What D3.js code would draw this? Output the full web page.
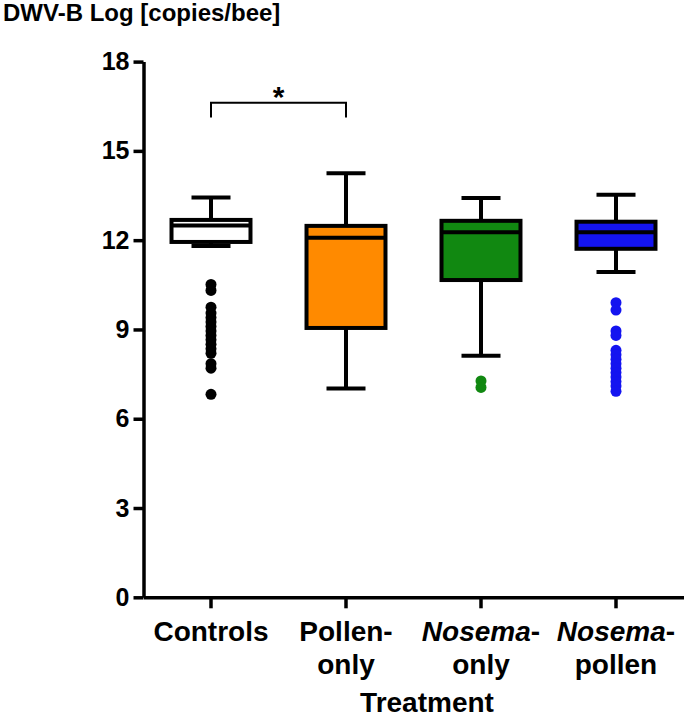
<!DOCTYPE html>
<html>
<head>
<meta charset="utf-8">
<script src="https://cdn.jsdelivr.net/npm/d3@7"></script>
<style>
  html, body { margin: 0; padding: 0; background: #fff; }
  svg { display: block; font-family: "Liberation Sans", Arial, sans-serif; }
</style>
</head>
<body>
<svg id="chart" width="685" height="722"></svg>
<script>
// ---- data ----
const categories = ["Controls", "Pollen-only", "Nosema-only", "Nosema-pollen"];
const whiskerLow  = [11.80, 7.02, 8.12, 10.93];
const q1          = [11.94, 9.05, 10.66, 11.71];
const medians     = [12.49, 12.08, 12.27, 12.27];
const q3          = [12.68, 12.48, 12.65, 12.62];
const whiskerHigh = [13.43, 14.25, 13.42, 13.53];
const outliersControls = [10.51, 10.31, 9.75, 9.55, 9.4, 9.25, 9.1, 8.95, 8.8, 8.65, 8.5, 8.35, 8.2, 7.85, 7.7, 6.82];
const outliersPollen = [];
const outliersNosema = [7.27, 7.05];
const outliersNosemaPollen = [9.9, 9.65, 8.95, 8.8, 8.3, 8.15, 8.0, 7.85, 7.7, 7.55, 7.4, 7.25, 7.1, 6.92];
const outliers = [outliersControls, outliersPollen, outliersNosema, outliersNosemaPollen];
const boxFill = ["#ffffff", "#ff8a00", "#118811", "#1414f0"];
const dotFill = ["#000000", "#ff8a00", "#118811", "#1414f0"];
const yTicks = [0, 3, 6, 9, 12, 15, 18];
const labelTop = ["Controls", "Pollen-", "Nosema", "Nosema"];
const labelTopItalic = [false, false, true, true];
const labelTopSuffix = ["", "", "-", "-"];
const labelBottom = ["", "only", "only", "pollen"];
const yTitle = "DWV-B Log [copies/bee]";
const xTitle = "Treatment";
const sigPair = [0, 1];
const sigLabel = "*";

// ---- layout ----
const svg = d3.select("#chart");
const x = d3.scaleBand().domain(categories).range([143.5, 683.5]).padding(0);
const y = d3.scaleLinear().domain([0, 18]).range([597.3, 61.6]);
const cx = i => x(categories[i]) + x.bandwidth() / 2;
const boxW = x.bandwidth() * 0.585;
const capW = 39;
const lw = 4;

// y axis
const yAxis = svg.append("g")
  .attr("transform", "translate(143.5,0)")
  .call(d3.axisLeft(y).tickValues(yTicks).tickSize(10).tickSizeOuter(0).tickPadding(4));
yAxis.select(".domain").attr("stroke", "#000").attr("stroke-width", 3.5);
yAxis.selectAll(".tick line").attr("stroke", "#000").attr("stroke-width", 3.5);
yAxis.selectAll(".tick text")
  .attr("font-size", 25).attr("font-weight", "bold").attr("fill", "#000")
  .attr("font-family", "Liberation Sans, Arial, sans-serif");

// x axis
const xAxis = svg.append("g")
  .attr("transform", "translate(0,597.3)")
  .call(d3.axisBottom(x).tickSize(11).tickSizeOuter(0).tickFormat(""));
xAxis.select(".domain").attr("stroke", "#000").attr("stroke-width", 3.5);
xAxis.selectAll(".tick line").attr("stroke", "#000").attr("stroke-width", 3.5);

// x labels
categories.forEach((c, i) => {
  const t = svg.append("text")
    .attr("x", cx(i)).attr("y", 641)
    .attr("text-anchor", "middle")
    .attr("font-size", 28).attr("font-weight", "bold");
  t.append("tspan").attr("font-style", labelTopItalic[i] ? "italic" : "normal").text(labelTop[i]);
  if (labelTopSuffix[i]) t.append("tspan").text(labelTopSuffix[i]);
  if (labelBottom[i]) {
    svg.append("text")
      .attr("x", cx(i)).attr("y", 673.5)
      .attr("text-anchor", "middle")
      .attr("font-size", 28).attr("font-weight", "bold")
      .text(labelBottom[i]);
  }
});

// titles
svg.append("text").attr("x", 3).attr("y", 21)
  .attr("font-size", 24).attr("font-weight", "bold").text(yTitle);
svg.append("text").attr("x", 427).attr("y", 712).attr("text-anchor", "middle")
  .attr("font-size", 28).attr("font-weight", "bold").text(xTitle);

// boxes
const g = svg.append("g");
categories.forEach((c, i) => {
  const xc = cx(i);
  // whiskers
  g.append("line").attr("x1", xc).attr("x2", xc).attr("y1", y(q3[i])).attr("y2", y(whiskerHigh[i]))
    .attr("stroke", "#000").attr("stroke-width", lw);
  g.append("line").attr("x1", xc).attr("x2", xc).attr("y1", y(q1[i])).attr("y2", y(whiskerLow[i]))
    .attr("stroke", "#000").attr("stroke-width", lw);
  g.append("line").attr("x1", xc - capW / 2).attr("x2", xc + capW / 2)
    .attr("y1", y(whiskerHigh[i])).attr("y2", y(whiskerHigh[i]))
    .attr("stroke", "#000").attr("stroke-width", lw);
  g.append("line").attr("x1", xc - capW / 2).attr("x2", xc + capW / 2)
    .attr("y1", y(whiskerLow[i])).attr("y2", y(whiskerLow[i]))
    .attr("stroke", "#000").attr("stroke-width", lw);
  // box
  g.append("rect")
    .attr("x", xc - boxW / 2).attr("width", boxW)
    .attr("y", y(q3[i])).attr("height", y(q1[i]) - y(q3[i]))
    .attr("fill", boxFill[i]).attr("stroke", "#000").attr("stroke-width", lw);
  // median
  g.append("line").attr("x1", xc - boxW / 2).attr("x2", xc + boxW / 2)
    .attr("y1", y(medians[i])).attr("y2", y(medians[i]))
    .attr("stroke", "#000").attr("stroke-width", lw);
  // outliers
  g.selectAll(null).data(outliers[i]).enter().append("circle")
    .attr("cx", xc).attr("cy", d => y(d)).attr("r", 5.5)
    .attr("fill", dotFill[i]);
});

// significance bracket
const bx1 = cx(sigPair[0]), bx2 = cx(sigPair[1]);
svg.append("path")
  .attr("d", `M${bx1},117.5 V102.7 H${bx2} V117.5`)
  .attr("fill", "none").attr("stroke", "#000").attr("stroke-width", 2);
svg.append("text").attr("x", (bx1 + bx2) / 2).attr("y", 107)
  .attr("text-anchor", "middle").attr("font-size", 30).attr("font-weight", "bold").text(sigLabel);
</script>
</body>
</html>
